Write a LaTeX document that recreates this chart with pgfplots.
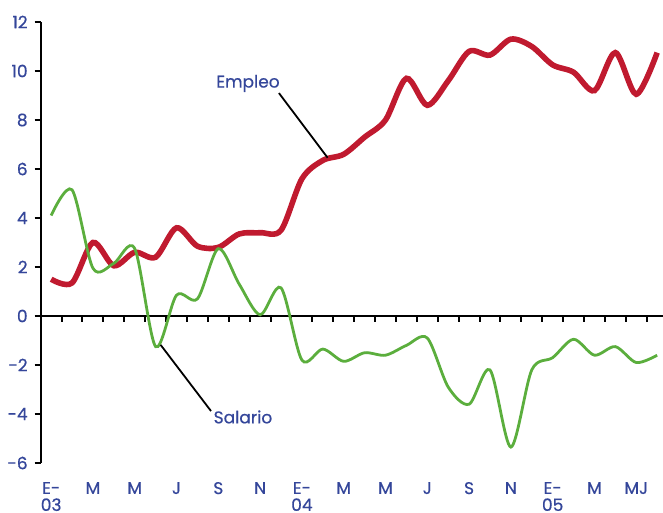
\documentclass[border=0pt]{standalone}
\usepackage{fontspec}
\setmainfont{Poppins}[UprightFeatures={FakeBold=0.6}]
\usepackage{pgfplots}
\usepackage{pgfplotstable}
\pgfplotsset{compat=1.18}

\definecolor{txtblue}{HTML}{34469A}
\definecolor{empred}{HTML}{C01A2F}
\definecolor{salgreen}{HTML}{5BAE3D}

% mes 0 = enero 2003
\pgfplotstableread{
m  emp   sal
0  1.50  4.10
1  1.35  5.15
2  3.00  1.95
3  2.05  2.15
4  2.60  2.75
5  2.40 -1.25
6  3.60  0.85
7  2.85  0.70
8  2.80  2.75
9  3.35  1.30
10 3.40  0.05
11 3.50  1.15
12 5.60 -1.80
13 6.35 -1.35
14 6.60 -1.85
15 7.30 -1.50
16 8.00 -1.60
17 9.70 -1.20
18 8.60 -0.90
19 9.60 -2.90
20 10.80 -3.60
21 10.65 -2.20
22 11.30 -5.35
23 11.00 -2.20
24 10.25 -1.70
25 9.95 -0.95
26 9.20 -1.60
27 10.75 -1.25
28 9.05 -1.90
29 10.75 -1.60
}\datos

\newcommand{\lbl}{\fontsize{8.5}{8.5}\selectfont}

\begin{document}
\begin{tikzpicture}
\pgfplotsset{base/.style={
  width=311.15pt, height=220.5pt, scale only axis,
  xmin=-0.5, xmax=29.28, ymin=-6, ymax=12,
  at={(0,0)}, anchor=south west}}

\begin{axis}[base,
  axis y line=left, axis x line=middle,
  axis line style={-, line width=1pt},
  ytick={-6,-4,...,12},
  yticklabels={-6,-4,-2,0,2,4,6,8,10,12},
  xtick={-0.5,0.5,...,28.5}, xticklabels={},
  tick style={black, line width=1pt},
  major tick length=3pt, tick align=outside,
  yticklabel style={text=txtblue, font=\lbl},
  clip=false]
\addplot[smooth, line width=2.8pt, empred] table[x=m,y=emp]{\datos};
\addplot[smooth, line width=1.4pt, salgreen] table[x=m,y=sal]{\datos};
\draw[line width=0.9pt] (axis cs:10.9,9.1) -- (axis cs:13.23,6.46);
\node[text=txtblue, font=\lbl] at (axis cs:9.42,9.49) {Empleo};
\draw[line width=0.9pt] (axis cs:5.24,-1.18) -- (axis cs:7.65,-3.88);
\node[text=txtblue, font=\lbl] at (axis cs:9.18,-4.12) {Salario};
\end{axis}

\begin{axis}[base,
  axis x line=bottom, axis y line=none,
  axis line style={draw=none},
  xtick={0,2,...,28},
  xticklabels={{E-\\03},M,M,J,S,N,{E-\\04},M,M,J,S,N,{E-\\05},M,MJ},
  major tick length=0pt,
  xticklabel style={align=center, text=txtblue, font=\lbl, yshift=-6pt}]
\end{axis}

\pgfresetboundingbox
\path (-20.35pt,-25pt) rectangle (311.15pt,231.5pt);
\end{tikzpicture}
\end{document}
